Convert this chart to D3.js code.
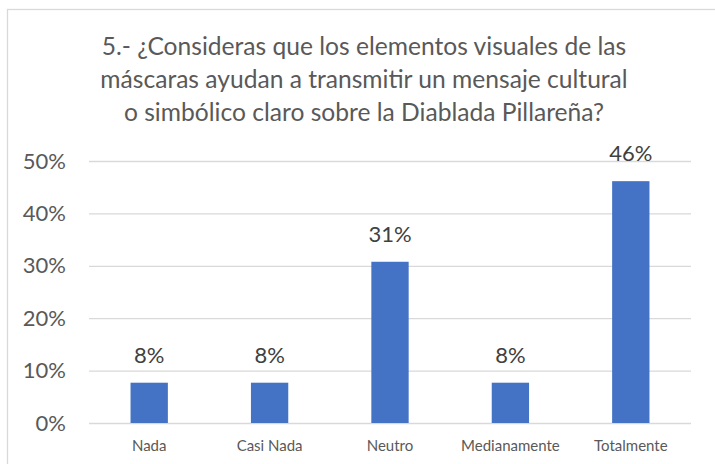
<!DOCTYPE html>
<html>
<head>
<meta charset="utf-8">
<script src="https://cdn.jsdelivr.net/npm/d3@7"></script>
<style>
  body { margin: 0; background: #fff; }
  text { font-family: Lato, "Open Sans", sans-serif; }
</style>
</head>
<body>
<script>
// data
var categories = ["Nada", "Casi Nada", "Neutro", "Medianamente", "Totalmente"];
var values = [0.0769, 0.0769, 0.3077, 0.0769, 0.4615];
var yTicks = [0, 0.1, 0.2, 0.3, 0.4, 0.5];
var titleLines = [
  "5.- ¿Consideras que los elementos visuales de las",
  "máscaras ayudan a transmitir un mensaje cultural",
  "o simbólico claro sobre la Diablada Pillareña?"
];

var W = 715, H = 464;
var margin = {top: 161, right: 24, bottom: 41, left: 89},
    width = W - margin.left - margin.right,
    height = H - margin.top - margin.bottom;

var svg = d3.select("body").append("svg")
    .attr("width", W)
    .attr("height", H);

// chart border (runs off the right and bottom edges)
svg.append("rect")
    .attr("x", 7.5).attr("y", 9.5)
    .attr("width", 730).attr("height", 470)
    .attr("fill", "#fff")
    .attr("stroke", "#d9d9d9")
    .attr("stroke-width", 1.3);

// title
svg.append("text")
    .attr("text-anchor", "middle")
    .attr("fill", "#595959")
    .style("font-size", "24.6px")
  .selectAll("tspan")
    .data(titleLines)
   .enter().append("tspan")
    .attr("x", 364)
    .attr("y", function(d, i) { return 55 + i * 33; })
    .text(function(d) { return d; });

var g = svg.append("g")
    .attr("transform", "translate(" + margin.left + "," + margin.top + ")");

var x = d3.scaleBand()
    .domain(categories)
    .range([0, width])
    .paddingInner(0.69)
    .paddingOuter(0.345);

var y = d3.scaleLinear()
    .domain([0, 0.5])
    .range([height, 0]);

// gridlines + y labels
var yAxis = d3.axisLeft(y)
    .tickValues(yTicks)
    .tickSize(-width)
    .tickPadding(23)
    .tickFormat(d3.format(".0%"));

g.append("g")
    .attr("class", "y-axis")
    .call(yAxis)
    .call(function(s) {
      s.select(".domain").remove();
      s.selectAll("line").attr("stroke", "#d9d9d9").attr("stroke-width", 1.3);
      s.selectAll("text")
        .attr("fill", "#595959")
        .style("font-size", "22px")
        .style("font-family", "Lato, sans-serif");
    });

// x labels
var xAxis = d3.axisBottom(x).tickSize(0).tickPadding(17);
g.append("g")
    .attr("transform", "translate(0," + height + ")")
    .call(xAxis)
    .call(function(s) {
      s.select(".domain").remove();
      s.selectAll("text")
        .attr("fill", "#595959")
        .style("font-size", "15px")
        .style("font-family", "Lato, sans-serif");
    });

// bars
g.selectAll(".bar")
    .data(values)
   .enter().append("rect")
    .attr("class", "bar")
    .attr("x", function(d, i) { return x(categories[i]); })
    .attr("width", x.bandwidth())
    .attr("y", function(d) { return y(d); })
    .attr("height", function(d) { return height - y(d); })
    .attr("fill", "#4472c4");

// data labels
g.selectAll(".label")
    .data(values)
   .enter().append("text")
    .attr("class", "label")
    .attr("x", function(d, i) { return x(categories[i]) + x.bandwidth() / 2; })
    .attr("y", function(d) { return y(d) - 20; })
    .attr("text-anchor", "middle")
    .attr("fill", "#404040")
    .style("font-size", "22px")
    .text(function(d) { return d3.format(".0%")(d); });
</script>
</body>
</html>
